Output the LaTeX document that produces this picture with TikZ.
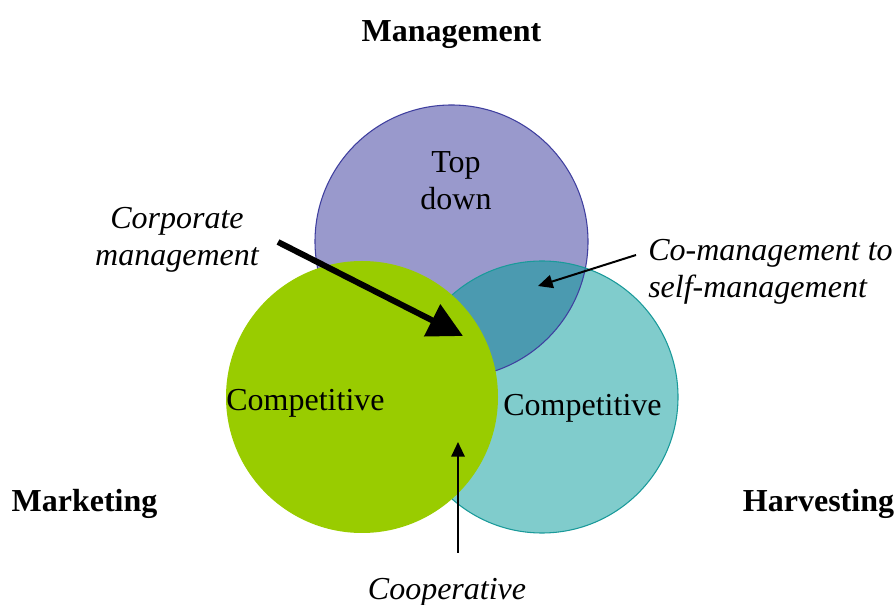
\documentclass[tikz,border=0pt]{standalone}
\usepackage{fontspec}
\setmainfont{Liberation Serif}
\usetikzlibrary{arrows.meta}
\definecolor{purp}{HTML}{9999CC}
\definecolor{purpline}{HTML}{3F3F9F}
\definecolor{teal1}{HTML}{80CCCC}
\definecolor{tealline}{HTML}{1A9A9A}
\definecolor{overlapc}{HTML}{4B9AB0}
\definecolor{greenc}{HTML}{99CC00}
\begin{document}
\begin{tikzpicture}[x=0.75pt,y=-0.75pt,
  every node/.style={font=\fontsize{24}{27.75}\selectfont, inner sep=0pt, align=center},
  bigtitle/.style={font=\fontsize{24}{27.75}\selectfont\bfseries},
  note/.style={font=\fontsize{24}{27.75}\selectfont\itshape},
  thickarrow/.style={line width=4.5pt, -{Triangle[length=26pt,width=26pt]}},
  thinarrow/.style={line width=1.5pt, -{Triangle[length=11pt,width=10pt]}}]
\useasboundingbox (0,0) rectangle (896,605);
\coordinate (cP) at (451.5,241.5);
\coordinate (cG) at (362,397);
\coordinate (cT) at (542,397);
% circles
\fill[purp] (cP) circle[radius=136.5];
\fill[teal1] (cT) circle[radius=136];
\begin{scope}
  \clip (cP) circle[radius=136.5];
  \fill[overlapc] (cT) circle[radius=136];
\end{scope}
\draw[purpline, line width=0.8pt] (cP) circle[radius=136.5];
\draw[tealline, line width=0.8pt] (cT) circle[radius=136];
\fill[greenc] (cG) circle[radius=136];
% labels
\node[bigtitle] (mgmt) at (451.5,35) {Management};
\node[bigtitle] (mkt) at (84.5,504) {Marketing};
\node[bigtitle] (harv) at (818.5,504) {Harvesting};
\node (top) at (456,181) {Top\\down};
\node (compG) at (305.5,403) {Competitive};
\node (compT) at (582.5,408) {Competitive};
\node[note] (corp) at (177,240) {Corporate\\management};
\node[note, align=left, anchor=west] (comg) at (648,272) {Co-management to\\self-management};
\node[note] (coop) at (447,592) {Cooperative};
% arrows
\coordinate (corpS) at (278,242);
\coordinate (corpE) at (463,336);
\coordinate (comgS) at (636,255);
\coordinate (comgE) at (538,286);
\coordinate (coopS) at (458,553);
\coordinate (coopE) at (458,442);
\draw[thickarrow] (corpS) -- (corpE);
\draw[thinarrow] (comgS) -- (comgE);
\draw[thinarrow] (coopS) -- (coopE);
\end{tikzpicture}
\end{document}
